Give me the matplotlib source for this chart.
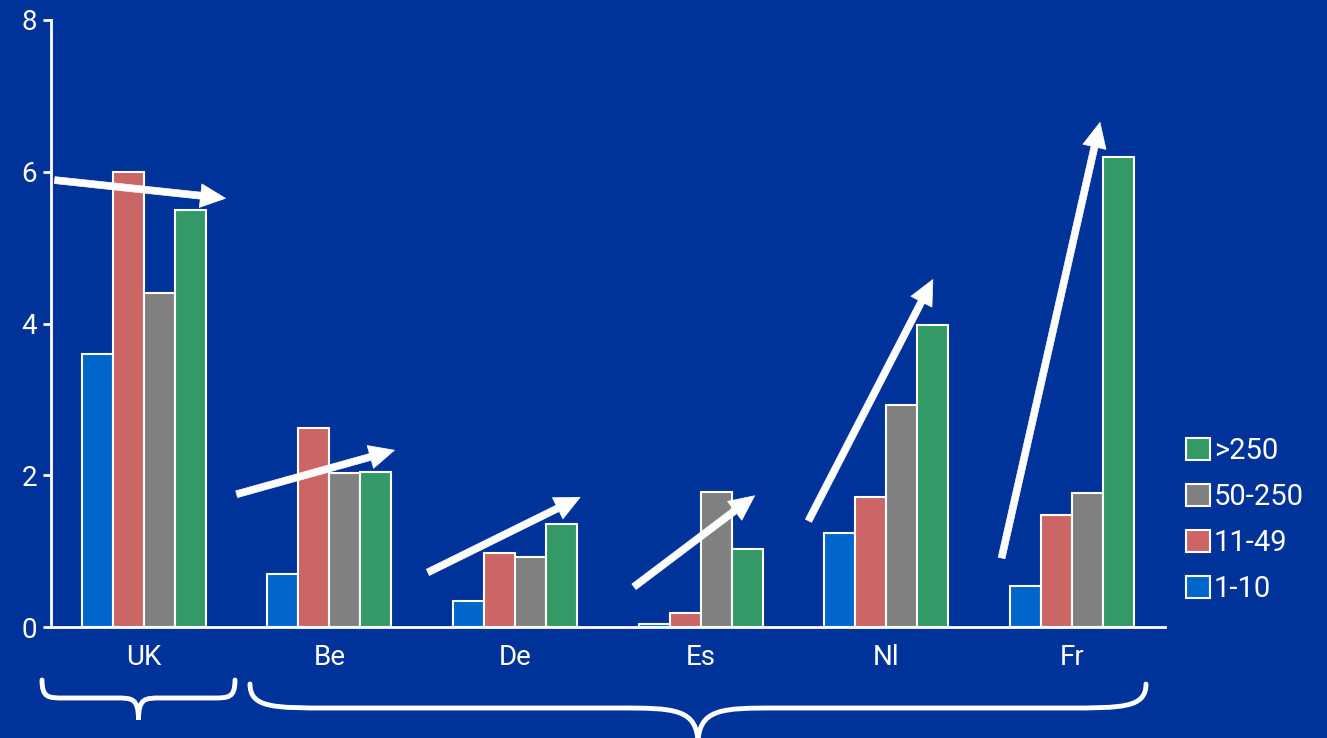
import matplotlib.pyplot as plt
import numpy as np
from matplotlib.path import Path
from matplotlib.patches import PathPatch, Patch

countries = ['UK', 'Be', 'De', 'Es', 'Nl', 'Fr']
sizes = ['1-10', '11-49', '50-250', '>250']
v_1_10 = [3.6, 0.70, 0.34, 0.04, 1.24, 0.54]
v_11_49 = [6.0, 2.62, 0.97, 0.18, 1.71, 1.48]
v_50_250 = [4.4, 2.03, 0.92, 1.78, 2.92, 1.77]
v_250 = [5.5, 2.04, 1.36, 1.03, 3.98, 6.2]
# trend arrows (start x, start y, end x, end y) in data units
arrows = [(-0.48, 5.89, 0.44, 5.65),
          (0.50, 1.75, 1.35, 2.33),
          (1.53, 0.72, 2.35, 1.71),
          (2.64, 0.53, 3.29, 1.73),
          (3.58, 1.40, 4.25, 4.58),
          (4.62, 0.91, 5.15, 6.65)]

bg = '#003399'
colors = ['#0066CC', '#CC6666', '#808080', '#339966']
fam = ['Roboto', 'DejaVu Sans']

fig = plt.figure(figsize=(13.27, 7.38), dpi=100, facecolor=bg)
ax = fig.add_axes([0.0384, 0.1504, 0.8395, 0.8225])
ax.set_facecolor(bg)

x = np.arange(len(countries))
w = 0.167
series = [v_1_10, v_11_49, v_50_250, v_250]
for i, vals in enumerate(series):
    ax.bar(x + (i - 1.5) * w, vals, width=w, color=colors[i], edgecolor='white',
           linewidth=1.5, label=sizes[i], zorder=2)

for x0, y0, x1, y1 in arrows:
    ax.annotate('', xy=(x1, y1), xytext=(x0, y0),
                arrowprops=dict(arrowstyle='simple,head_length=0.9,head_width=0.85,tail_width=0.25',
                                facecolor='white', edgecolor='white', lw=0.5,
                                mutation_scale=20, shrinkA=0, shrinkB=0),
                zorder=3)

ax.set_xlim(-0.5, 5.5)
ax.set_ylim(0, 8)
ax.set_yticks([0, 2, 4, 6, 8])
ax.set_xticks(x)
ax.set_xticklabels(countries)
for s in ['top', 'right']:
    ax.spines[s].set_visible(False)
for s in ['left', 'bottom']:
    ax.spines[s].set_color('white')
    ax.spines[s].set_linewidth(2)
ax.tick_params(axis='y', colors='white', labelsize=20, length=6, width=2, pad=4)
ax.tick_params(axis='x', colors='white', labelsize=20, length=0, pad=12)
for lab in ax.get_xticklabels() + ax.get_yticklabels():
    lab.set_fontfamily(fam)

handles = [Patch(facecolor=colors[i], edgecolor='white', linewidth=1.5, label=sizes[i])
           for i in range(3, -1, -1)]
leg = fig.legend(handles=handles, loc='center left', bbox_to_anchor=(0.894, 0.295),
                 frameon=False, handlelength=0.8, handleheight=0.8, handletextpad=0.15,
                 labelspacing=0.62, borderpad=0, borderaxespad=0,
                 prop={'family': fam, 'size': 21})
for t in leg.get_texts():
    t.set_color('white')

# braces below the axis, in figure pixels
W, H = 1327, 738


def brace(x0, x1, ytop, ymid, ytip, r):
    xm = (x0 + x1) / 2
    verts = [(x0, ytop),
             (x0, ymid), (x0 + r * 0.3, ymid), (x0 + r, ymid),
             (xm - r, ymid),
             (xm - r * 0.3, ymid), (xm, ymid), (xm, ytip),
             (xm, ymid), (xm + r * 0.3, ymid), (xm + r, ymid),
             (x1 - r, ymid),
             (x1 - r * 0.3, ymid), (x1, ymid), (x1, ytop)]
    codes = [Path.MOVETO, Path.CURVE4, Path.CURVE4, Path.CURVE4, Path.LINETO,
             Path.CURVE4, Path.CURVE4, Path.CURVE4, Path.CURVE4, Path.CURVE4, Path.CURVE4,
             Path.LINETO, Path.CURVE4, Path.CURVE4, Path.CURVE4]
    verts = [(vx / W, 1 - vy / H) for vx, vy in verts]
    fig.patches.append(PathPatch(Path(verts, codes), transform=fig.transFigure,
                                 facecolor='none', edgecolor='white', lw=3.5,
                                 capstyle='round'))


brace(42, 235, 680, 698, 720, 22)
brace(250, 1146, 684, 708, 745, 80)

fig.savefig('out.png', dpi=100, facecolor=bg)
